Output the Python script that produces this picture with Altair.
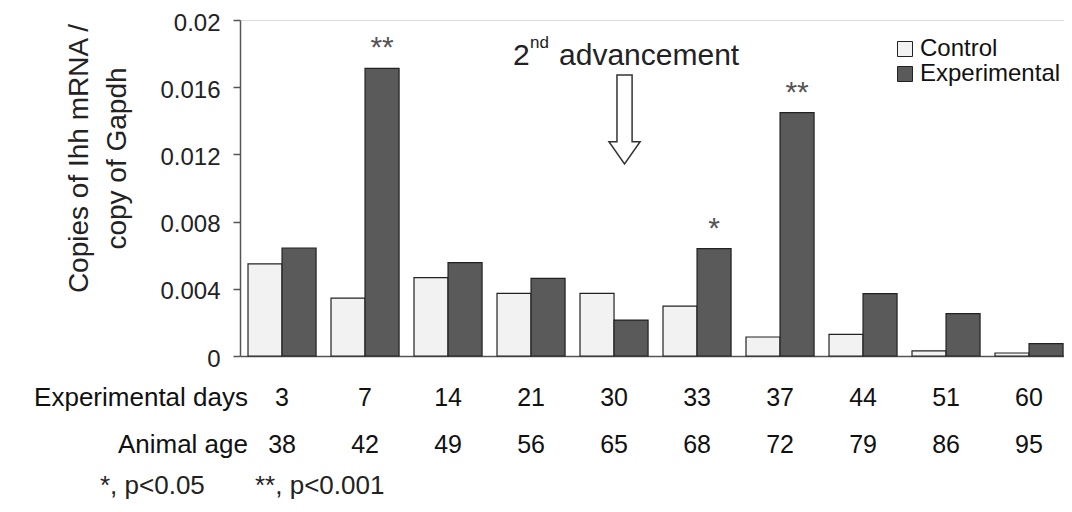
import altair as alt
import pandas as pd

days = ["3", "7", "14", "21", "30", "33", "37", "44", "51", "60"]
ages = ["38", "42", "49", "56", "65", "68", "72", "79", "86", "95"]
control = [0.00548, 0.00345, 0.00466, 0.00373, 0.00373, 0.00297, 0.00113, 0.00129, 0.00030, 0.00018]
experimental = [0.00643, 0.01712, 0.00556, 0.00462, 0.00214, 0.00639, 0.01449, 0.00371, 0.00252, 0.00074]
stars = ["", "**", "", "", "", "*", "**", "", "", ""]
series = ["Control", "Experimental"]
y_ticks = [0, 0.004, 0.008, 0.012, 0.016, 0.02]

bars_df = pd.DataFrame({
    "day": days * 2,
    "series": ["Control"] * len(days) + ["Experimental"] * len(days),
    "value": control + experimental,
})
star_df = pd.DataFrame({"day": days, "series": "Experimental", "value": experimental, "star": stars})
star_df = star_df[star_df["star"] != ""]
rows_df = pd.DataFrame({"day": days, "age": ages})
anno_df = pd.DataFrame({"day": ["30"]})
one = pd.DataFrame({"a": [1]})

FONT = "Liberation Sans"

xscale = alt.Scale(domain=days, paddingInner=0.18, paddingOuter=0.0539, align=0.895)
yscale = alt.Scale(domain=[0, 0.02], nice=False, zero=True)
offscale = alt.Scale(domain=series, paddingInner=0, paddingOuter=0)

X = alt.X("day:N", scale=xscale,
          axis=alt.Axis(labels=False, ticks=False, title=None, domain=True,
                        domainColor="#555", domainWidth=1.5))
yaxis = alt.Axis(values=y_ticks, format="~g", grid=False, tickSize=7, tickColor="#555",
                 tickWidth=1.5, domainColor="#555", domainWidth=1.5,
                 labelFontSize=24, labelColor="#222", labelPadding=13, labelFont=FONT,
                 labelOffset=3,
                 title=["Copies of Ihh mRNA /", "copy of Gapdh"],
                 titleFontSize=28, titleLineHeight=38, titleFontWeight="normal",
                 titleColor="#222", titleFont=FONT, titleAngle=270, titleAlign="center",
                 titleBaseline="top", titleX=-175, titleY=138)
Y = alt.Y("value:Q", scale=yscale, axis=yaxis)

bars = alt.Chart(bars_df).mark_bar(stroke="#222", strokeWidth=1.2).encode(
    x=X,
    xOffset=alt.XOffset("series:N", scale=offscale),
    y=Y,
    color=alt.Color("series:N",
                    scale=alt.Scale(domain=series, range=["#f2f2f2", "#5a5a5a"]),
                    legend=alt.Legend(title=None, orient="none", legendX=653, legendY=17,
                                      symbolType="square", symbolSize=225,
                                      symbolStrokeColor="#222", symbolStrokeWidth=1,
                                      labelFontSize=24, labelFont=FONT, labelColor="#111",
                                      labelOffset=3, rowPadding=1, padding=0)),
)

star_text = alt.Chart(star_df).mark_text(
    fontSize=30, font=FONT, color="#555", baseline="alphabetic", dy=-11
).encode(
    x=X,
    xOffset=alt.XOffset("series:N", scale=offscale),
    y=Y,
    text="star:N",
)

row1 = alt.Chart(rows_df).mark_text(fontSize=25, font=FONT, color="#111", baseline="alphabetic").encode(
    x=X, y=alt.value(386), text="day:N")
row2 = alt.Chart(rows_df).mark_text(fontSize=25, font=FONT, color="#111", baseline="alphabetic").encode(
    x=X, y=alt.value(433), text="age:N")
row1_title = alt.Chart(one).mark_text(text="Experimental days", fontSize=26, font=FONT, color="#111",
                                      align="right", baseline="alphabetic").encode(
    x=alt.value(8), y=alt.value(386))
row2_title = alt.Chart(one).mark_text(text="Animal age", fontSize=26, font=FONT, color="#111",
                                      align="right", baseline="alphabetic").encode(
    x=alt.value(8), y=alt.value(433))
foot1 = alt.Chart(one).mark_text(text="*, p<0.05", fontSize=26, font=FONT, color="#222",
                                 align="left", baseline="alphabetic").encode(
    x=alt.value(-140), y=alt.value(474))
foot2 = alt.Chart(one).mark_text(text="**, p<0.001", fontSize=26, font=FONT, color="#222",
                                 align="left", baseline="alphabetic").encode(
    x=alt.value(15), y=alt.value(474))

t2 = alt.Chart(anno_df).mark_text(text="2", fontSize=30, font=FONT, color="#222", align="left",
                                  baseline="alphabetic", dx=-101).encode(x=X, y=alt.value(45))
tnd = alt.Chart(anno_df).mark_text(text="nd", fontSize=17, font=FONT, color="#222", align="left",
                                   baseline="alphabetic", dx=-84).encode(x=X, y=alt.value(28))
tadv = alt.Chart(anno_df).mark_text(text="advancement", fontSize=30, font=FONT, color="#222",
                                    align="left", baseline="alphabetic", dx=-55).encode(x=X, y=alt.value(45))
arrow_path = "M -0.17 -1 L 0.17 -1 L 0.17 0.5 L 0.35 0.5 L 0 1 L -0.35 0.5 L -0.17 0.5 Z"
arrow = alt.Chart(anno_df).mark_point(shape=arrow_path, size=7921, filled=True, fill="white",
                                      stroke="#333", strokeWidth=1.5, opacity=1, xOffset=10.5).encode(
    x=X, y=alt.value(99.5))

chart = alt.layer(
    bars, star_text, row1, row2, row1_title, row2_title, foot1, foot2, t2, tnd, tadv, arrow
).properties(
    width=824, height=336,
    padding={"left": 232, "top": 12, "right": 0, "bottom": 146},
    autosize=alt.AutoSizeParams(type="none"),
).configure_view(stroke=None).configure(font=FONT, background="white")

chart.save("out.html", embed_options={"renderer": "svg", "actions": False})
